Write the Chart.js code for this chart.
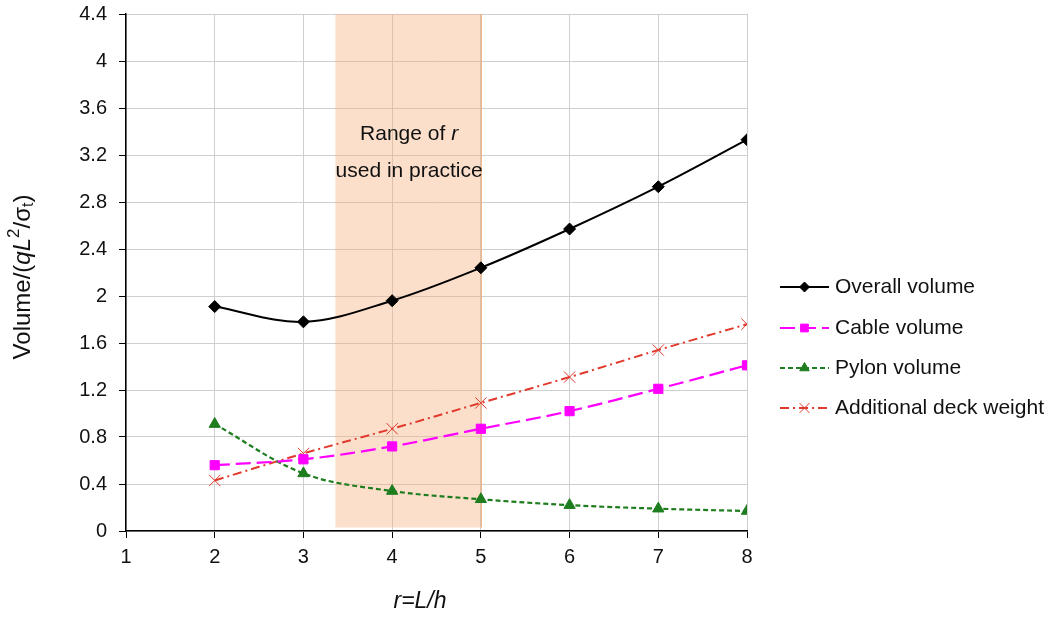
<!DOCTYPE html>
<html>
<head>
<meta charset="utf-8">
<script src="https://cdn.jsdelivr.net/npm/chart.js@4/dist/chart.umd.min.js"></script>
<style>
	html, body { margin: 0; padding: 0; background: #fff; }
	#wrap { width: 1058px; height: 617px; }
</style>
</head>
<body>
<div id="wrap"><canvas id="chart" width="1058" height="617"></canvas></div>
<script>
const rValues = [2, 3, 4, 5, 6, 7, 8];
const overallVolume = [1.91, 1.78, 1.96, 2.24, 2.57, 2.93, 3.33];
const cableVolume = [0.56, 0.61, 0.72, 0.87, 1.02, 1.21, 1.41];
const pylonVolume = [0.91, 0.49, 0.34, 0.27, 0.22, 0.19, 0.17];
const deckWeight = [0.43, 0.66, 0.87, 1.09, 1.31, 1.54, 1.76];
const seriesNames = ['Overall volume', 'Cable volume', 'Pylon volume', 'Additional deck weight'];
const practiceRange = [3.36, 5];
const practiceText = ['Range of ', 'used in practice'];
const xTitle = 'r=L/h';

const FONT = '"Liberation Sans", Arial, sans-serif';

function points(values) {
	return values.map((v, i) => ({x: rValues[i], y: v}));
}

const styles = [
	{color: '#000000', dash: [], point: 'rectRot', radius: 6, width: 2},
	{color: '#ff00ff', dash: [15, 6], point: 'rect', radius: 6.5, width: 2.2},
	{color: '#1e7d1e', dash: [5, 3], point: 'triangle', radius: 6.5, width: 2.2},
	{color: '#e03a2e', dash: [9, 4, 2, 4], point: 'crossRot', radius: 8, width: 2}
];
const allValues = [overallVolume, cableVolume, pylonVolume, deckWeight];

const datasets = allValues.map(function(values, i) {
	const s = styles[i];
	return {
		label: seriesNames[i],
		data: points(values),
		borderColor: s.color,
		backgroundColor: s.color,
		borderWidth: s.width,
		borderDash: s.dash,
		tension: 0.35,
		pointStyle: s.point,
		pointRadius: s.radius,
		pointBorderColor: s.color,
		pointBackgroundColor: s.color,
		pointBorderWidth: 1,
		fill: false
	};
});

//Shaded band and its caption, drawn over the grid but under the lines
const rangePlugin = {
	id: 'rangeBand',
	beforeDatasetsDraw(chart) {
		const ctx = chart.ctx;
		const xs = chart.scales.x;
		const ys = chart.scales.y;
		const x0 = xs.getPixelForValue(practiceRange[0]);
		const x1 = xs.getPixelForValue(practiceRange[1]);
		const yTop = ys.getPixelForValue(4.4);
		const yBot = ys.getPixelForValue(0.03);
		ctx.save();
		ctx.fillStyle = 'rgba(245, 175, 125, 0.4)';
		ctx.fillRect(x0, yTop, x1 - x0, yBot - yTop);
		ctx.strokeStyle = 'rgba(230, 150, 90, 0.8)';
		ctx.lineWidth = 1;
		ctx.beginPath();
		ctx.moveTo(x1 + 0.5, yTop);
		ctx.lineTo(x1 + 0.5, yBot);
		ctx.stroke();

		const cx = (x0 + x1) / 2 + 1;
		ctx.fillStyle = '#111';
		ctx.textBaseline = 'middle';
		ctx.font = '21px ' + FONT;
		const w1 = ctx.measureText(practiceText[0]).width;
		ctx.font = 'italic 21px ' + FONT;
		const w2 = ctx.measureText('r').width;
		const sx = cx - (w1 + w2) / 2;
		ctx.font = '21px ' + FONT;
		ctx.textAlign = 'left';
		ctx.fillText(practiceText[0], sx, 134);
		ctx.font = 'italic 21px ' + FONT;
		ctx.fillText('r', sx + w1, 134);
		ctx.font = '21px ' + FONT;
		ctx.textAlign = 'center';
		ctx.fillText(practiceText[1], cx, 171);
		ctx.restore();
	}
};

//Axis titles (with italics, super- and subscript) plus the line legend
const decorPlugin = {
	id: 'decor',
	afterDraw(chart) {
		const ctx = chart.ctx;
		ctx.save();

		//y axis title
		const parts = [
			{t: 'Volume/(', f: '24px ' + FONT, dy: 0},
			{t: 'qL', f: 'italic 24px ' + FONT, dy: 0},
			{t: '2', f: '17px ' + FONT, dy: -9},
			{t: '/\u03c3', f: '24px ' + FONT, dy: 0},
			{t: 't', f: '16px ' + FONT, dy: 6},
			{t: ')', f: '24px ' + FONT, dy: 0}
		];
		let total = 0;
		parts.forEach(function(p) {
			ctx.font = p.f;
			p.w = ctx.measureText(p.t).width;
			total += p.w;
		});
		ctx.translate(23, 277);
		ctx.rotate(-Math.PI / 2);
		ctx.fillStyle = '#111';
		ctx.textBaseline = 'middle';
		ctx.textAlign = 'left';
		let px = -total / 2;
		parts.forEach(function(p) {
			ctx.font = p.f;
			ctx.fillText(p.t, px, p.dy);
			px += p.w;
		});
		ctx.setTransform(1, 0, 0, 1, 0, 0);

		//x axis title
		ctx.font = 'italic 23px ' + FONT;
		ctx.textAlign = 'center';
		ctx.textBaseline = 'middle';
		ctx.fillText(xTitle, 420, 602);

		//legend
		const lx0 = 780, lx1 = 829, tx = 835;
		const rows = [287, 328, 368, 408];
		chart.data.datasets.forEach(function(ds, i) {
			const y = rows[i];
			ctx.strokeStyle = ds.borderColor;
			ctx.lineWidth = ds.borderWidth;
			ctx.setLineDash(ds.borderDash);
			ctx.beginPath();
			ctx.moveTo(lx0, y);
			ctx.lineTo(lx1, y);
			ctx.stroke();
			ctx.setLineDash([]);
			ctx.fillStyle = ds.pointBackgroundColor;
			ctx.strokeStyle = ds.pointBorderColor;
			ctx.lineWidth = 1;
			Chart.helpers.drawPoint(ctx, {
				pointStyle: ds.pointStyle,
				radius: ds.pointRadius - 1,
				borderWidth: 1
			}, (lx0 + lx1) / 2, y);
			ctx.fillStyle = '#111';
			ctx.font = '21px ' + FONT;
			ctx.textAlign = 'left';
			ctx.textBaseline = 'middle';
			ctx.fillText(ds.label, tx, y);
		});
		ctx.restore();
	}
};

new Chart(document.getElementById('chart'), {
	type: 'line',
	data: {datasets: datasets},
	plugins: [rangePlugin, decorPlugin],
	options: {
		responsive: false,
		animation: false,
		layout: {
			padding: {left: 0, right: 311, top: 14, bottom: 0}
		},
		plugins: {
			legend: {display: false},
			tooltip: {enabled: false}
		},
		scales: {
			x: {
				type: 'linear',
				min: 1,
				max: 8,
				ticks: {
					stepSize: 1,
					color: '#111',
					font: {family: FONT, size: 20},
					padding: 7
				},
				grid: {
					color: '#cfcfcf',
					tickColor: '#000',
					tickLength: 7,
					lineWidth: 1
				},
				border: {color: '#000', width: 1.5},
				afterFit(scale) {
					scale.height = 86;
					scale.paddingLeft = 0;
					scale.paddingRight = 0;
				}
			},
			y: {
				min: 0,
				max: 4.4,
				ticks: {
					stepSize: 0.4,
					color: '#111',
					font: {family: FONT, size: 20},
					padding: 12,
					callback: function(v) {
						return Math.round(v * 10) / 10;
					}
				},
				grid: {
					color: '#cfcfcf',
					tickColor: '#000',
					tickLength: 7,
					lineWidth: 1
				},
				border: {color: '#000', width: 1.5},
				afterFit(scale) {
					scale.width = 126;
					scale.paddingTop = 0;
					scale.paddingBottom = 0;
				}
			}
		}
	}
});
</script>
</body>
</html>
